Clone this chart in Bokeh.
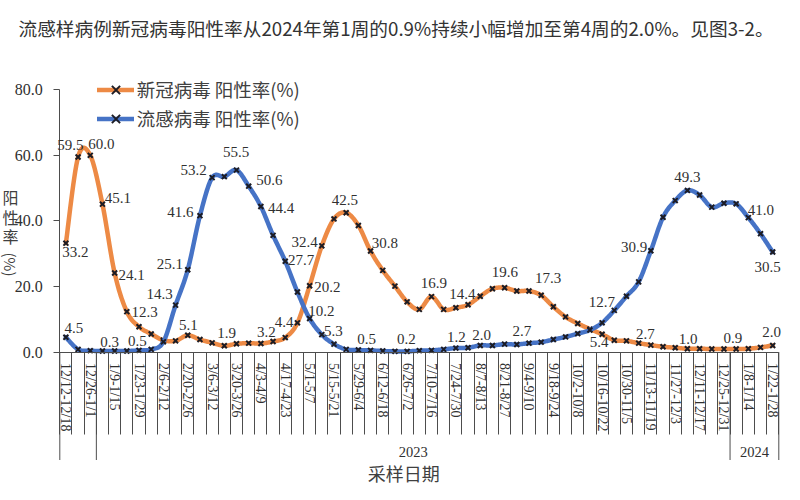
import math
import numpy as np
from bokeh.plotting import figure
from bokeh.models import (Range1d, FixedTicker, LinearAxis, Label, Legend, LegendItem,
                          PrintfTickFormatter)
from bokeh.embed import file_html
from bokeh.resources import INLINE

# ---------------- data ----------------
title_text = "流感样病例新冠病毒阳性率从2024年第1周的0.9%持续小幅增加至第4周的2.0%。见图3-2。"

weeks = ["12/12-12/18", "12/19-12/25", "12/26-1/1", "1/2-1/8", "1/9-1/15", "1/16-1/22",
         "1/23-1/29", "1/30-2/5", "2/6-2/12", "2/13-2/19", "2/20-2/26", "2/27-3/5",
         "3/6-3/12", "3/13-3/19", "3/20-3/26", "3/27-4/2", "4/3-4/9", "4/10-4/16",
         "4/17-4/23", "4/24-4/30", "5/1-5/7", "5/8-5/14", "5/15-5/21", "5/22-5/28",
         "5/29-6/4", "6/5-6/11", "6/12-6/18", "6/19-6/25", "6/26-7/2", "7/3-7/9",
         "7/10-7/16", "7/17-7/23", "7/24-7/30", "7/31-8/6", "8/7-8/13", "8/14-8/20",
         "8/21-8/27", "8/28-9/3", "9/4-9/10", "9/11-9/17", "9/18-9/24", "9/25-10/1",
         "10/2-10/8", "10/9-10/15", "10/16-10/22", "10/23-10/29", "10/30-11/5", "11/6-11/12",
         "11/13-11/19", "11/20-11/26", "11/27-12/3", "12/4-12/10", "12/11-12/17", "12/18-12/24",
         "12/25-12/31", "1/1-1/7", "1/8-1/14", "1/15-1/21", "1/22-1/28"]

year_labels = ["", "2023", "2024"]
year_sizes = [3, 52, 4]

covid = [33.2, 59.5, 60.0, 45.1, 24.1, 12.3, 7.7, 5.5, 3.6, 3.4,
         5.1, 3.8, 2.8, 1.9, 2.5, 2.7, 2.6, 3.2, 4.4, 8.9,
         20.2, 32.4, 40.6, 42.5, 38.6, 30.8, 24.9, 20.1, 15.3, 13.0,
         16.9, 13.0, 13.5, 14.4, 17.0, 19.3, 19.6, 18.6, 18.6, 17.3,
         13.8, 10.7, 8.7, 7.0, 5.4, 3.6, 3.4, 2.7, 2.1, 1.6,
         1.3, 1.0, 1.0, 0.9, 0.9, 0.9, 1.0, 1.4, 2.0]

flu = [4.5, 0.8, 0.4, 0.3, 0.3, 0.3, 0.5, 0.8, 3.1, 14.3,
       25.1, 41.6, 53.2, 53.5, 55.5, 50.6, 44.4, 35.6, 27.7, 18.3,
       10.2, 5.3, 2.4, 0.8, 0.6, 0.5, 0.3, 0.2, 0.2, 0.4,
       0.5, 0.8, 1.2, 1.3, 2.0, 2.0, 2.4, 2.3, 2.7, 3.0,
       3.8, 4.6, 5.6, 6.7, 8.9, 12.7, 17.0, 21.4, 30.9, 41.1,
       46.2, 49.3, 47.9, 44.2, 45.4, 45.2, 41.0, 36.1, 30.5]

series_names = ["新冠病毒 阳性率(%)", "流感病毒 阳性率(%)"]
y_ticks = [0, 20, 40, 60, 80]

covid_labeled = [0, 1, 2, 3, 4, 5, 10, 13, 17, 18, 20, 21, 23, 25, 30, 33, 36, 39, 44, 47, 51, 55, 58]
flu_labeled = [0, 4, 6, 9, 10, 11, 12, 14, 15, 16, 18, 20, 21, 25, 28, 32, 34, 38, 45, 48, 51, 56, 58]

# ---------------- styles ----------------
covid_label_offsets = [(9.5, -9), (-7.7, 12.3), (11.2, 11.6), (15.3, 6.6), (17, -2.3), (17.8, 0),
                       (0.6, 10), (2.4, 12.7), (-6.7, 10), (-1, 15.6), (17.7, -1.7), (-17.2, 4),
                       (-1.4, 12.7), (14.3, 8.3), (2.3, 13.3), (-5.6, 11.3), (0.3, 16), (7, 17),
                       (-3, -7.7), (6.7, 8.7), (0.6, 9.4), (-3.3, 11), (-1, 13.3)]
flu_label_offsets = [(8, 9), (-5, 9), (-1.6, 9), (-16, 11), (-18, 5.3), (-19.5, 3.3), (-18.4, 7.4),
                     (-0.3, 17.6), (20.7, 5.7), (20.3, -1.7), (15.8, 1.4), (11.8, 7.6), (11.6, 3.3),
                     (-4, 11), (-0.7, 12), (0.4, 11.3), (1.4, 10.4), (-7, 12.3), (-12.5, 8.3),
                     (-16.7, 4), (0, 13.3), (12.5, 8), (-5, -15)]

ORANGE = "#ED8A45"
BLUE = "#4673C6"
MARK = "#1c1c24"
AX = "#4d4d4d"
TXT = "#303030"
SERIF = "Liberation Serif"
CJK = "Noto Sans CJK SC"

W, H = 784, 484                 # canvas = frame (axes drawn inside at fixed locations)
X0_PX, XN_PX = 59.3, 778.3      # canvas px of first / last week boundary
Y0_PX, Y80_PX = 351.5, 89.3     # canvas px of 0 and 80 on the value axis

n = len(weeks)
xc = [i + 0.5 for i in range(n)]
PX_PER_WEEK = (XN_PX - X0_PX) / n
PX_PER_UNIT = (Y0_PX - Y80_PX) / (y_ticks[-1] - y_ticks[0])
x_lo = -X0_PX / PX_PER_WEEK
x_hi = n + (W - XN_PX) / PX_PER_WEEK
y_lo = -(H - Y0_PX) / PX_PER_UNIT
y_hi = Y0_PX / PX_PER_UNIT


def smooth(xs, ys, k=14):
    pts = np.column_stack([xs, ys]).astype(float)
    P = np.vstack([pts[0], pts, pts[-1]])
    out = []
    for i in range(len(pts) - 1):
        p0, p1, p2, p3 = P[i], P[i + 1], P[i + 2], P[i + 3]
        c1 = p1 + (p2 - p0) / 6.0
        c2 = p2 - (p3 - p1) / 6.0
        t = np.linspace(0, 1, k, endpoint=(i == len(pts) - 2))[:, None]
        b = (1 - t) ** 3 * p1 + 3 * (1 - t) ** 2 * t * c1 + 3 * (1 - t) * t ** 2 * c2 + t ** 3 * p2
        out.append(b)
    arr = np.vstack(out)
    return arr[:, 0], arr[:, 1]


p = figure(width=W, height=H, frame_width=W, frame_height=H, output_backend="svg",
           toolbar_location=None, x_range=Range1d(x_lo, x_hi), y_range=Range1d(y_lo, y_hi),
           x_axis_type=None, y_axis_type=None, title=None, min_border=0)
p.outline_line_color = None
p.background_fill_color = "white"
p.border_fill_color = "white"

# value axis at x = 0
yaxis = LinearAxis(ticker=FixedTicker(ticks=y_ticks), formatter=PrintfTickFormatter(format="%.1f"),
                   bounds=(y_ticks[0], y_ticks[-1]), fixed_location=0)
yaxis.axis_line_color = AX
yaxis.major_tick_line_color = AX
yaxis.major_tick_out = 6
yaxis.major_tick_in = 0
yaxis.minor_tick_line_color = None
yaxis.major_label_standoff = 11
yaxis.major_label_text_font = SERIF
yaxis.major_label_text_font_size = "16px"
yaxis.major_label_text_color = TXT
p.add_layout(yaxis, "left")

# category axis at y = 0 : a boundary line for every week
xaxis = LinearAxis(ticker=FixedTicker(ticks=list(range(n + 1))), bounds=(0, n), fixed_location=0)
xaxis.major_label_overrides = {i: "" for i in range(n + 1)}
xaxis.axis_line_color = AX
xaxis.major_tick_line_color = AX
xaxis.major_tick_out = 82
xaxis.major_tick_in = 0
xaxis.minor_tick_line_color = None
xaxis.major_label_text_font_size = "1px"
xaxis.major_label_standoff = 0
p.add_layout(xaxis, "below")

# category labels, every other week, rotated to read downward
for i in range(0, n, 2):
    p.add_layout(Label(x=xc[i], y=-11 / PX_PER_UNIT, text=weeks[i],
                       angle=-math.pi / 2, text_align="left", text_baseline="middle",
                       text_font=SERIF, text_font_size="14px", text_color=TXT))

# year groups: long separators and year names
bounds = [0]
for s in year_sizes:
    bounds.append(bounds[-1] + s)
p.segment(x0=bounds, y0=[0] * len(bounds), x1=bounds, y1=[-108 / PX_PER_UNIT] * len(bounds),
          line_color=AX, line_width=1)
for k, lab in enumerate(year_labels):
    if lab:
        p.add_layout(Label(x=(bounds[k] + bounds[k + 1]) / 2, y=-99.7 / PX_PER_UNIT,
                           text=lab, text_align="center", text_baseline="middle",
                           text_font=SERIF, text_font_size="14.5px", text_color=TXT))

# lines
sx, sy = smooth(xc, covid)
ol = p.line(sx, sy, line_color=ORANGE, line_width=4.5, line_join="round", line_cap="round")
om = p.scatter(xc, covid, marker="x", size=7, line_color=MARK, line_width=2)
bx, by = smooth(xc, flu)
bl = p.line(bx, by, line_color=BLUE, line_width=4.5, line_join="round", line_cap="round")
bm = p.scatter(xc, flu, marker="x", size=7, line_color=MARK, line_width=2)

# data labels
for vals, idxs, offs in ((covid, covid_labeled, covid_label_offsets), (flu, flu_labeled, flu_label_offsets)):
    for i, (dx, dy) in zip(idxs, offs):
        p.add_layout(Label(x=xc[i], y=vals[i], x_offset=dx, y_offset=dy, text=f"{vals[i]:.1f}",
                           text_align="center", text_baseline="middle",
                           text_font=SERIF, text_font_size="15px", text_color=TXT))

# legend (screen px from the frame's bottom-left)
legend = Legend(items=[LegendItem(label=series_names[0], renderers=[ol, om]),
                       LegendItem(label=series_names[1], renderers=[bl, bm])],
                location=(96.7, H - 132.8))
legend.border_line_color = None
legend.background_fill_alpha = 0
legend.padding = 0
legend.margin = 0
legend.spacing = 0
legend.glyph_width = 37
legend.glyph_height = 29
legend.label_height = 29
legend.label_standoff = 3
legend.label_text_font = CJK
legend.label_text_font_size = "18.5px"
legend.label_text_color = "#404040"
p.add_layout(legend)

# title and axis titles (screen px from the frame's bottom-left)
p.add_layout(Label(x=18, y=H - 27, x_units="screen", y_units="screen", text=title_text,
                   text_align="left", text_baseline="middle", text_font=CJK,
                   text_font_size="18.7px", text_color="#333333"))
for ch, yy in (("阳", 196.7), ("性", 216.7), ("率", 235)):
    p.add_layout(Label(x=10, y=H - yy, x_units="screen", y_units="screen", text=ch,
                       text_align="center", text_baseline="middle", text_font=CJK,
                       text_font_size="16px", text_color="#404040"))
p.add_layout(Label(x=10, y=H - 264, x_units="screen", y_units="screen", text="(%)", angle=-math.pi / 2,
                   text_align="center", text_baseline="middle", text_font=CJK,
                   text_font_size="15px", text_color="#404040"))
p.add_layout(Label(x=403.3, y=H - 472, x_units="screen", y_units="screen", text="采样日期",
                   text_align="center", text_baseline="middle", text_font=CJK,
                   text_font_size="18px", text_color="#404040"))

open("out.html", "w").write(file_html(p, INLINE))
